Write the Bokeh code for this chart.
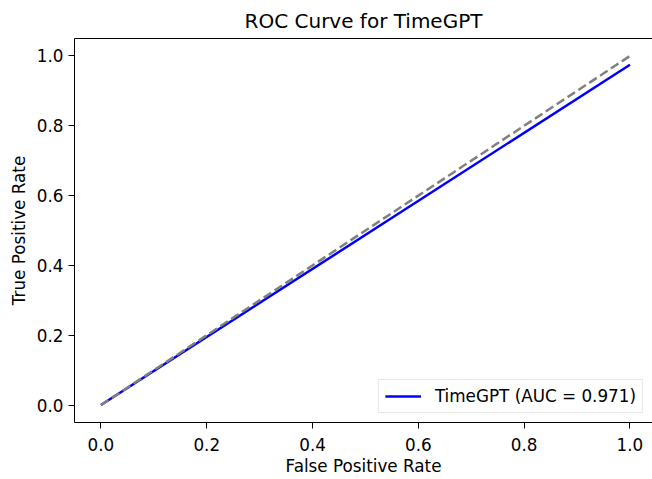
from bokeh.plotting import figure
from bokeh.models import LinearAxis, FixedTicker, PrintfTickFormatter, Range1d, Legend, LegendItem
from bokeh.embed import file_html
from bokeh.resources import INLINE

# data
fpr = [0.0, 1.0]
tpr = [0.0, 0.975]
diag_x = [0.0, 1.0]
diag_y = [0.0, 1.0]
ticks = [0.0, 0.2, 0.4, 0.6, 0.8, 1.0]
label = "TimeGPT (AUC = 0.971)"

FONT = "DejaVu Sans"
SMALL = "16.8px"

p = figure(width=652, height=479, output_backend="svg", toolbar_location=None,
           x_range=Range1d(-0.05, 1.0426), y_range=Range1d(-0.05, 1.05),
           min_border_left=74, min_border_right=0, min_border_top=37, min_border_bottom=57,
           title="ROC Curve for TimeGPT")
p.outline_line_color = None
p.grid.visible = False
p.background_fill_color = "white"
p.border_fill_color = "white"

p.title.text_font = FONT
p.title.text_font_size = "20px"
p.title.text_font_style = "normal"
p.title.align = "center"
p.title.text_color = "black"
p.title.standoff = 12

for ax in (p.xaxis[0], p.yaxis[0]):
    ax.ticker = FixedTicker(ticks=ticks)
    ax.formatter = PrintfTickFormatter(format="%.1f")
    ax.major_label_text_font = FONT
    ax.major_label_text_font_size = SMALL
    ax.major_label_text_color = "black"
    ax.axis_label_text_font = FONT
    ax.axis_label_text_font_size = SMALL
    ax.axis_label_text_font_style = "normal"
    ax.axis_label_text_color = "black"
    ax.major_tick_in = 0
    ax.major_tick_out = 6
    ax.minor_tick_line_color = None
    ax.axis_line_color = "black"
    ax.axis_line_width = 1
    ax.major_tick_line_color = "black"

p.xaxis.major_label_standoff = 9
p.xaxis.axis_label_standoff = 2
p.yaxis.major_label_standoff = 5
p.yaxis.axis_label_standoff = 5

p.xaxis.axis_label = "False Positive Rate"
p.yaxis.axis_label = "True Positive Rate"

top_axis = LinearAxis(major_tick_line_color=None, minor_tick_line_color=None,
                      major_label_text_font_size="0px", axis_line_color="black",
                      major_label_standoff=0, ticker=FixedTicker(ticks=[]))
p.add_layout(top_axis, "above")

r1 = p.line(fpr, tpr, line_color="blue", line_width=2.5)
p.line(diag_x, diag_y, line_color="gray", line_width=2.5, line_dash="9 4")

legend = Legend(items=[LegendItem(label=label, renderers=[r1])], location="bottom_right")
legend.label_text_font = FONT
legend.label_text_font_size = SMALL
legend.label_text_color = "black"
legend.glyph_width = 36
legend.label_standoff = 14
legend.padding = 6
legend.margin = 9
legend.border_line_color = "#d0d0d0"
legend.border_line_width = 1
legend.background_fill_alpha = 0.8
p.add_layout(legend, "center")

open("out.html", "w").write(file_html(p, INLINE))
